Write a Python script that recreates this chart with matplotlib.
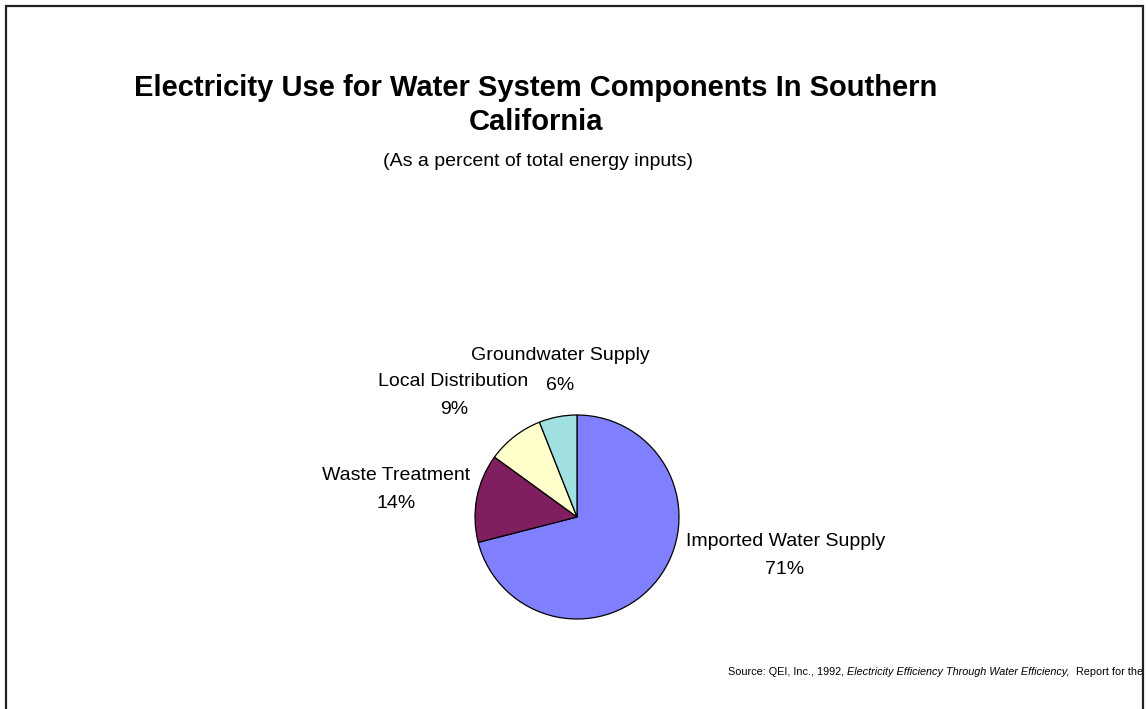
import matplotlib
matplotlib.use("Agg")
import matplotlib.pyplot as plt
from matplotlib.patches import Rectangle
from matplotlib.transforms import Bbox, TransformedBbox

plt.rcParams['font.family'] = ['Liberation Sans', 'DejaVu Sans']

# data
components = ["Imported Water Supply", "Waste Treatment", "Local Distribution", "Groundwater Supply"]
shares = [71, 14, 9, 6]
colors = ["#8080FF", "#7F1F5F", "#FFFFCC", "#A0E0E0"]

title = "Electricity Use for Water System Components In Southern\nCalifornia"
subtitle = "(As a percent of total energy inputs)"

W, H = 1148, 709
fig = plt.figure(figsize=(W / 100, H / 100), dpi=100)
ax = fig.add_axes([0, 0, 1, 1])

# pie, in pixel coords (y measured up from the bottom)
ax.pie(shares, colors=colors, startangle=90, counterclock=False,
       center=(577, H - 517), radius=102, frame=True,
       wedgeprops=dict(edgecolor="black", linewidth=0.9))
ax.set_xlim(0, W)
ax.set_ylim(0, H)
ax.set_aspect("equal")
ax.axis("off")

# slide frame
frame = Rectangle((6, -20), 1137, H - 6 + 20, fill=False, edgecolor="#222222",
                  linewidth=1.6, clip_on=False)
ax.add_patch(frame)

ax.text(536, H - 105, title, ha="center", va="center", fontsize=21,
        fontweight="bold", linespacing=1.25)
ax.text(538, H - 162, subtitle, ha="center", va="center", fontsize=14)

# slice labels: name and percentage placed separately like the original
name_pos = {
    "Imported Water Supply": (786, 542),
    "Waste Treatment": (396, 475),
    "Local Distribution": (453, 382),
    "Groundwater Supply": (560, 355),
}
pct_pos = {
    "Imported Water Supply": (785, 570),
    "Waste Treatment": (396, 503),
    "Local Distribution": (454, 410),
    "Groundwater Supply": (560, 385),
}
for name, val in zip(components, shares):
    x, y = name_pos[name]
    ax.text(x, H - y, name, ha="center", va="center", fontsize=14)
    x, y = pct_pos[name]
    ax.text(x, H - y, f"{val}%", ha="center", va="center", fontsize=14)

# source line, clipped by the slide frame
clip = TransformedBbox(Bbox([[0, 0], [1142, H]]), ax.transData)
parts = [("Source: QEI, Inc., 1992, ", "normal"),
         ("Electricity Efficiency Through Water Efficiency,", "italic"),
         ("  Report for the", "normal")]
t = ax.text(728, H - 672, parts[0][0], ha="left", va="center", fontsize=7.8,
            style=parts[0][1])
t.set_clip_box(clip)
t.set_clip_on(True)
for txt, sty in parts[1:]:
    t = ax.annotate(txt, xycoords=t, xy=(1, 0), va="bottom", ha="left",
                    fontsize=7.8, style=sty, annotation_clip=False)
    t.set_clip_box(clip)
    t.set_clip_on(True)

fig.savefig("out.png", dpi=100)
